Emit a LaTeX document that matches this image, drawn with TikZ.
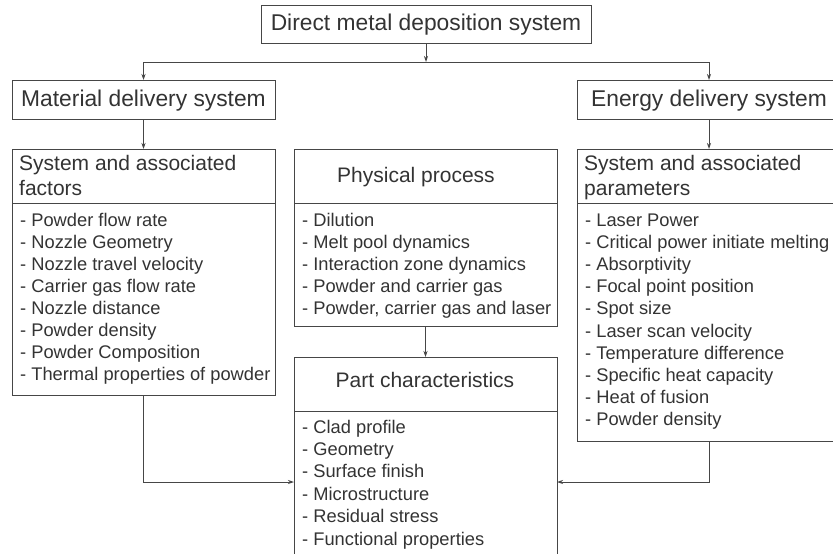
\documentclass[tikz,border=0pt]{standalone}
\usepackage{fontspec}
\setmainfont{Liberation Sans}
\usetikzlibrary{arrows.meta}
\definecolor{ink}{HTML}{333333}
\definecolor{edge}{HTML}{464646}
\begin{document}
\begin{tikzpicture}[x=1pt,y=-1pt,
  frame/.style={draw=edge, line width=0.9pt, inner sep=0pt, outer sep=0pt, anchor=north west},
  bigtxt/.style={text=ink, font=\fontsize{22.8}{26}\selectfont, inner sep=0pt, anchor=base},
  headtxt/.style={text=ink, font=\fontsize{21}{25}\selectfont, inner sep=0pt, anchor=base west},
  headctr/.style={text=ink, font=\fontsize{21}{25}\selectfont, inner sep=0pt, anchor=base},
  itemtxt/.style={text=ink, font=\fontsize{18.3}{22}\selectfont, inner sep=0pt, anchor=base west},
  conn/.style={draw=edge, line width=0.9pt},
  arr/.style={conn, -{Stealth[length=6pt,width=4pt]}}]
\useasboundingbox (0,0) rectangle (833,554);
\clip (0,0) rectangle (833,554);

% top-level boxes
\node[frame, minimum width=330pt, minimum height=38pt] (top) at (261,5) {};
\node[bigtxt] (toptxt) at (426,30) {Direct metal deposition system};
\node[frame, minimum width=263pt, minimum height=39pt] (mat) at (12,80) {};
\node[bigtxt] (mattxt) at (143.5,106) {Material delivery system};
\node[frame, minimum width=264pt, minimum height=39pt] (en) at (577,80) {};
\node[bigtxt] (entxt) at (709,106) {Energy delivery system};

% detail boxes
\node[frame, minimum width=263pt, minimum height=246pt] (lf) at (12,149) {};
\node[frame, minimum width=263pt, minimum height=177pt] (mid) at (294,149) {};
\node[frame, minimum width=264pt, minimum height=292pt] (rt) at (577,149) {};
\node[frame, minimum width=263pt, minimum height=220pt] (part) at (294,357) {};

% dividers
\draw[conn] (lf.west |- 0,203) -- (lf.east |- 0,203);
\draw[conn] (mid.west |- 0,203) -- (mid.east |- 0,203);
\draw[conn] (rt.west |- 0,203) -- (rt.east |- 0,203);
\draw[conn] (part.west |- 0,411) -- (part.east |- 0,411);

% headings
\node[headtxt] (lfh1) at (19,170) {System and associated};
\node[headtxt] (lfh2) at (19,195) {factors};
\node[headctr] (midh) at (416,182) {Physical process};
\node[headtxt] (rth1) at (584,170) {System and associated};
\node[headtxt] (rth2) at (584,195) {parameters};
\node[headctr] (parth) at (425,387) {Part characteristics};

% lists
\foreach \t [count=\i from 0] in {Powder flow rate, Nozzle Geometry, Nozzle travel velocity, Carrier gas flow rate, Nozzle distance, Powder density, Powder Composition, Thermal properties of powder}
  \node[itemtxt] (lfi\i) at (20,226+22*\i) {- \t};
\foreach \t [count=\i from 0] in {Dilution, Melt pool dynamics, Interaction zone dynamics, Powder and carrier gas, {Powder, carrier gas and laser}}
  \node[itemtxt] (midi\i) at (302,226+22*\i) {- \t};
\foreach \t [count=\i from 0] in {Laser Power, Critical power initiate melting, Absorptivity, Focal point position, Spot size, Laser scan velocity, Temperature difference, Specific heat capacity, Heat of fusion, Powder density}
  \node[itemtxt] (rti\i) at (585,226+22.2*\i) {- \t};
\foreach \t [count=\i from 0] in {Clad profile, Geometry, Surface finish, Microstructure, Residual stress, Functional properties}
  \node[itemtxt] (parti\i) at (302,433+22.4*\i) {- \t};

% connectors
\coordinate (bL) at (143.5,62);
\coordinate (bR) at (709,62);
\coordinate (j) at (0,482);
\draw[conn] (bL) -- (bR);
\draw[arr] (top.south) -- (top.south |- bL);
\draw[arr] (bL) -- (mat.north);
\draw[arr] (bR) -- (en.north);
\draw[arr] (mat.south) -- (lf.north);
\draw[arr] (en.south) -- (rt.north);
\draw[arr] (mid.south) -- (part.north);
\draw[arr] (lf.south) |- (j -| part.west);
\draw[arr] (rt.south) |- (j -| part.east);
\end{tikzpicture}
\end{document}
